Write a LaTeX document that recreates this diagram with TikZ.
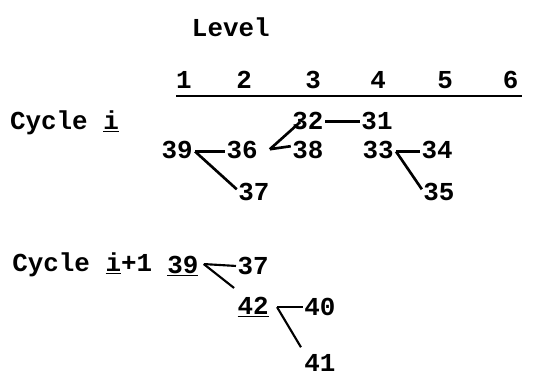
\documentclass[tikz,border=0pt]{standalone}
\usepackage{fontspec}
\setmonofont{Liberation Mono}
\usepackage{tikz}
\usetikzlibrary{positioning,calc}
\newcommand{\tyfont}{\ttfamily\bfseries\fontsize{19.5}{22}\selectfont}

\begin{document}
\begin{tikzpicture}[x=1cm, y=1cm,
  num/.style={font=\tyfont, inner sep=1pt},
  lbl/.style={font=\tyfont, inner sep=0pt, anchor=west},
  link/.style={line width=2pt},
  thin link/.style={line width=1.6pt}]
\useasboundingbox (0,0) rectangle (14.40,9.93);
\node[num] (lvl) at (6.11,9.21) {Level};
% level numbers
\foreach \k/\x in {1/4.87, 2/6.46, 3/8.29, 4/10.01, 5/11.78, 6/13.52}
  \node[num] (lv\k) at (\x,7.81) {\k};
\coordinate (hl) at (4.66,7.39);
\coordinate (hr) at (13.82,7.39);
\draw[line width=1.6pt] (hl) -- (hr);

% cycle i
\node[lbl] (ci) at (0.26,6.68) {Cycle \underline{i}};
\node[num] (a32) at (8.15,6.72) {32};
\node[num] (a31) at (9.98,6.72) {31};
\node[num] (a39) at (4.69,5.96) {39};
\node[num] (a36) at (6.41,5.96) {36};
\node[num] (a38) at (8.15,5.96) {38};
\node[num] (a33) at (10.01,5.96) {33};
\node[num] (a34) at (11.57,5.96) {34};
\node[num] (a37) at (6.72,4.84) {37};
\node[num] (a35) at (11.62,4.84) {35};
\coordinate (j39) at ($(a39.east)+(0.02,-0.04)$);
\coordinate (j36) at ($(a36.east)+(0.28,0.02)$);
\coordinate (j33) at ($(a33.east)+(0.02,-0.04)$);
\draw[link] (j39) -- ($(a36.west)+(0,-0.04)$);
\draw[link] (j39) -- ($(a37.west)+(0,0.08)$);
\draw[link] (j36) -- ($(a32.west)+(0.25,-0.02)$);
\draw[link] (j36) -- ($(a38.west)+(0,0.1)$);
\draw[link] (a32.east) -- (a31.west);
\draw[link] (j33) -- ($(a34.west)+(0,-0.04)$);
\draw[link] (j33) -- ($(a35.west)+(0,0.08)$);

% cycle i+1
\node[lbl] (cj) at (0.32,2.93) {Cycle \underline{i}+1};
\node[num] (b39) at (4.84,2.89) {\underline{39}};
\node[num] (b37) at (6.70,2.89) {37};
\node[num] (b42) at (6.70,1.80) {\underline{42}};
\node[num] (b40) at (8.47,1.80) {40};
\node[num] (b41) at (8.47,0.32) {41};
\coordinate (j39b) at ($(b39.east)+(0.10,0.05)$);
\coordinate (j42) at ($(b42.east)+(0.18,0.00)$);
\draw[thin link] (j39b) -- (b37.west);
\draw[thin link] (j39b) -- ($(b42.north west)+(-0.05,0.20)$);
\draw[thin link] (j42) -- (b40.west);
\draw[thin link] (j42) -- ($(b41.north west)+(-0.05,0.15)$);
\end{tikzpicture}
\end{document}
